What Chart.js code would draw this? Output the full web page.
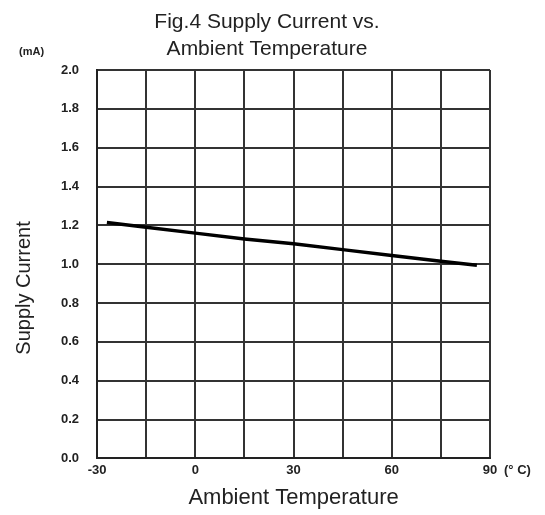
<!DOCTYPE html>
<html>
<head>
<meta charset="utf-8">
<script src="https://cdn.jsdelivr.net/npm/chart.js@4"></script>
<style>
  body { margin: 0; background: #fff; }
  #wrap { width: 545px; height: 515px; }
</style>
</head>
<body>
<div id="wrap"><canvas id="myChart" width="545" height="515"></canvas></div>
<script>
// data
var temps = [-27, -15, 0, 15, 30, 45, 60, 75, 86];
var current = [1.215, 1.19, 1.16, 1.13, 1.105, 1.075, 1.045, 1.015, 0.995];
var xTickLabels = [-30, 0, 30, 60, 90];
var yTickLabels = ['0.0', '0.2', '0.4', '0.6', '0.8', '1.0', '1.2', '1.4', '1.6', '1.8', '2.0'];

var points = temps.map(function (t, i) { return { x: t, y: current[i] }; });

var FONT = '"Liberation Sans", Arial, sans-serif';

// titles and unit labels are drawn by hand so they sit off-centre like the original
var extraText = {
    id: 'extraText',
    afterDraw: function (chart) {
        var c = chart.ctx;
        var xs = chart.scales.x, ys = chart.scales.y;
        c.save();
        c.fillStyle = '#222';
        c.textBaseline = 'middle';
        c.textAlign = 'center';
        c.font = '21px ' + FONT;
        c.fillText('Fig.4 Supply Current vs.', 267, 22);
        c.fillText('Ambient Temperature', 267, 49);

        c.font = '22px ' + FONT;
        c.fillText('Ambient Temperature', (xs.left + xs.right) / 2, 498);

        c.save();
        c.translate(24, 288);
        c.rotate(-Math.PI / 2);
        c.font = '20px ' + FONT;
        c.fillText('Supply Current', 0, 0);
        c.restore();

        c.textAlign = 'left';
        c.font = 'bold 13px ' + FONT;
        c.fillText('(° C)', xs.getPixelForValue(90) + 14, xs.top + 12);
        c.font = 'bold 11px ' + FONT;
        c.fillText('(mA)', 19, ys.top - 18);
        c.restore();
    }
};

var ctx = document.getElementById('myChart').getContext('2d');

var chart = new Chart(ctx, {
    type: 'scatter',
    data: {
        datasets: [{
            label: 'Supply Current',
            data: points,
            showLine: true,
            borderColor: '#000',
            borderWidth: 3.5,
            pointRadius: 0,
            tension: 0
        }]
    },
    options: {
        responsive: false,
        animation: false,
        layout: { padding: { left: 43, right: 55, top: 70, bottom: 33 } },
        plugins: {
            legend: { display: false },
            tooltip: { enabled: false },
            title: { display: false }
        },
        scales: {
            x: {
                type: 'linear',
                min: -30,
                max: 90,
                ticks: {
                    stepSize: 15,
                    autoSkip: false,
                    maxRotation: 0,
                    color: '#222',
                    padding: 4,
                    font: { family: FONT, size: 13, weight: 'bold' },
                    callback: function (v) { return xTickLabels.indexOf(v) >= 0 ? String(v) : ''; }
                },
                grid: { color: '#333', lineWidth: 2, drawTicks: false },
                border: { color: '#222', width: 2 }
            },
            y: {
                min: 0,
                max: 2.0,
                ticks: {
                    stepSize: 0.2,
                    color: '#222',
                    padding: 18,
                    font: { family: FONT, size: 13, weight: 'bold' },
                    callback: function (v, i) { return yTickLabels[i]; }
                },
                grid: { color: '#333', lineWidth: 2, drawTicks: false },
                border: { color: '#222', width: 2 }
            }
        }
    },
    plugins: [extraText]
});
</script>
</body>
</html>
